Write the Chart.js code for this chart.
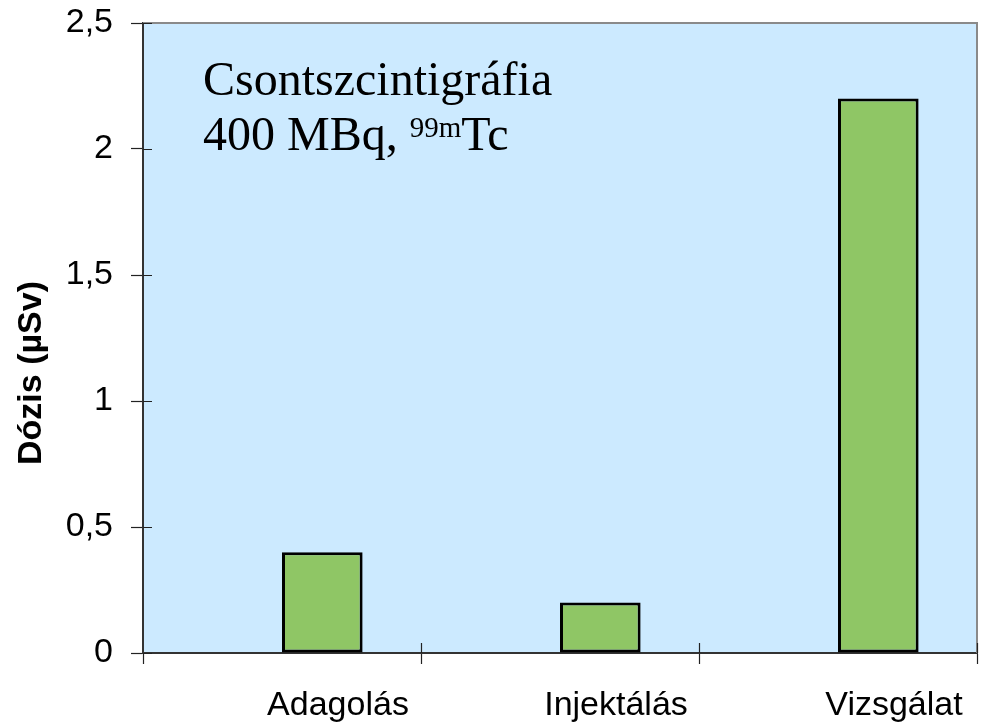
<!DOCTYPE html>
<html>
<head>
<meta charset="utf-8">
<script src="https://cdn.jsdelivr.net/npm/chart.js@4/dist/chart.umd.min.js"></script>
<style>
  html, body { margin: 0; padding: 0; background: #ffffff; }
  #wrap { width: 988px; height: 725px; position: relative; }
</style>
</head>
<body>
<div id="wrap"><canvas id="c" width="988" height="725"></canvas></div>
<script>
// Dose per step of a bone scintigraphy (400 MBq Tc-99m)
const categories = ['Adagolás', 'Injektálás', 'Vizsgálat'];
const doseValues = [0.4, 0.2, 2.2];
const spacerValues = [null, null, null];
const yTicks = [0, 0.5, 1, 1.5, 2, 2.5];
const yTitle = 'Dózis (µSv)';
const noteLine1 = 'Csontszcintigráfia';
const noteLine2 = '400 MBq, ';
const noteSup = '99m';
const noteTail = 'Tc';

const fmt = v => String(v).replace('.', ',');

const plotDecor = {
  id: 'plotDecor',
  beforeDraw(chart) {
    const { ctx, chartArea: a } = chart;
    ctx.save();
    ctx.fillStyle = '#cceaff';
    ctx.fillRect(a.left, a.top, a.right - a.left, a.bottom - a.top);
    ctx.restore();
  },
  afterDraw(chart) {
    const { ctx, chartArea: a, scales } = chart;
    ctx.save();
    // grey frame on top and right
    ctx.strokeStyle = '#8a8a8a';
    ctx.lineWidth = 2;
    ctx.beginPath();
    ctx.moveTo(a.left, a.top);
    ctx.lineTo(a.right, a.top);
    ctx.lineTo(a.right, a.bottom);
    ctx.stroke();
    // tick marks reaching inside the plot
    ctx.strokeStyle = '#222';
    ctx.lineWidth = 1.2;
    ctx.beginPath();
    yTicks.forEach(v => {
      const y = Math.round(scales.y.getPixelForValue(v)) + 0.5;
      ctx.moveTo(a.left, y);
      ctx.lineTo(a.left + 9, y);
    });
    const half = (scales.x.getPixelForValue(1) - scales.x.getPixelForValue(0)) / 2;
    for (let i = 1; i <= categories.length; i++) {
      const x = Math.round(scales.x.getPixelForValue(i - 1) + half) + 0.5;
      ctx.moveTo(x, a.bottom);
      ctx.lineTo(x, a.bottom - 10);
    }
    ctx.stroke();
    // note text
    ctx.fillStyle = '#000';
    ctx.textBaseline = 'alphabetic';
    ctx.textAlign = 'left';
    const serif48 = '48px "Liberation Serif", "Times New Roman", serif';
    ctx.font = serif48;
    const tx = a.left + 60;
    ctx.fillText(noteLine1, tx, a.top + 72);
    ctx.fillText(noteLine2, tx, a.top + 127);
    let w = ctx.measureText(noteLine2).width;
    ctx.font = '29px "Liberation Serif", "Times New Roman", serif';
    ctx.fillText(noteSup, tx + w, a.top + 114);
    w += ctx.measureText(noteSup).width;
    ctx.font = serif48;
    ctx.fillText(noteTail, tx + w, a.top + 127);
    // y axis title
    ctx.font = 'bold 34px "Liberation Sans", Arial, sans-serif';
    ctx.textAlign = 'center';
    ctx.textBaseline = 'middle';
    ctx.translate(32, 373);
    ctx.rotate(-Math.PI / 2);
    ctx.fillText(yTitle, 0, 0);
    ctx.restore();
  }
};

new Chart(document.getElementById('c'), {
  type: 'bar',
  data: {
    labels: categories,
    datasets: [
      { label: 'spacer', data: spacerValues },
      {
        label: yTitle,
        data: doseValues,
        backgroundColor: '#8fc665',
        borderColor: '#000000',
        borderWidth: 3,
        borderSkipped: false
      }
    ]
  },
  options: {
    responsive: false,
    animation: false,
    devicePixelRatio: 1,
    layout: { padding: { top: 23, right: 11, left: 0, bottom: 0 } },
    plugins: { legend: { display: false }, tooltip: { enabled: false } },
    datasets: { bar: { barPercentage: 1, categoryPercentage: 0.58 } },
    scales: {
      x: {
        offset: true,
        grid: { offset: true, drawOnChartArea: false, drawTicks: true, tickLength: 11, color: '#222', tickWidth: 1.2 },
        border: { display: true, color: '#333', width: 2 },
        ticks: {
          color: '#000',
          font: { family: '"Liberation Sans", Arial, sans-serif', size: 34 },
          padding: 21,
          labelOffset: 56,
          maxRotation: 0
        },
        afterFit(s) { s.height = 72; s.paddingLeft = 0; s.paddingRight = 0; }
      },
      y: {
        min: 0,
        max: 2.5,
        afterBuildTicks(s) { s.ticks = yTicks.map(v => ({ value: v })); },
        grid: { drawOnChartArea: false, drawTicks: true, tickLength: 12, color: '#222', tickWidth: 1.2 },
        border: { display: true, color: '#333', width: 2 },
        ticks: {
          color: '#000',
          font: { family: '"Liberation Sans", Arial, sans-serif', size: 34 },
          padding: 18,
          callback: v => fmt(v)
        },
        afterFit(s) { s.width = 143; s.paddingTop = 0; s.paddingBottom = 0; }
      }
    }
  },
  plugins: [plotDecor]
});
</script>
</body>
</html>
